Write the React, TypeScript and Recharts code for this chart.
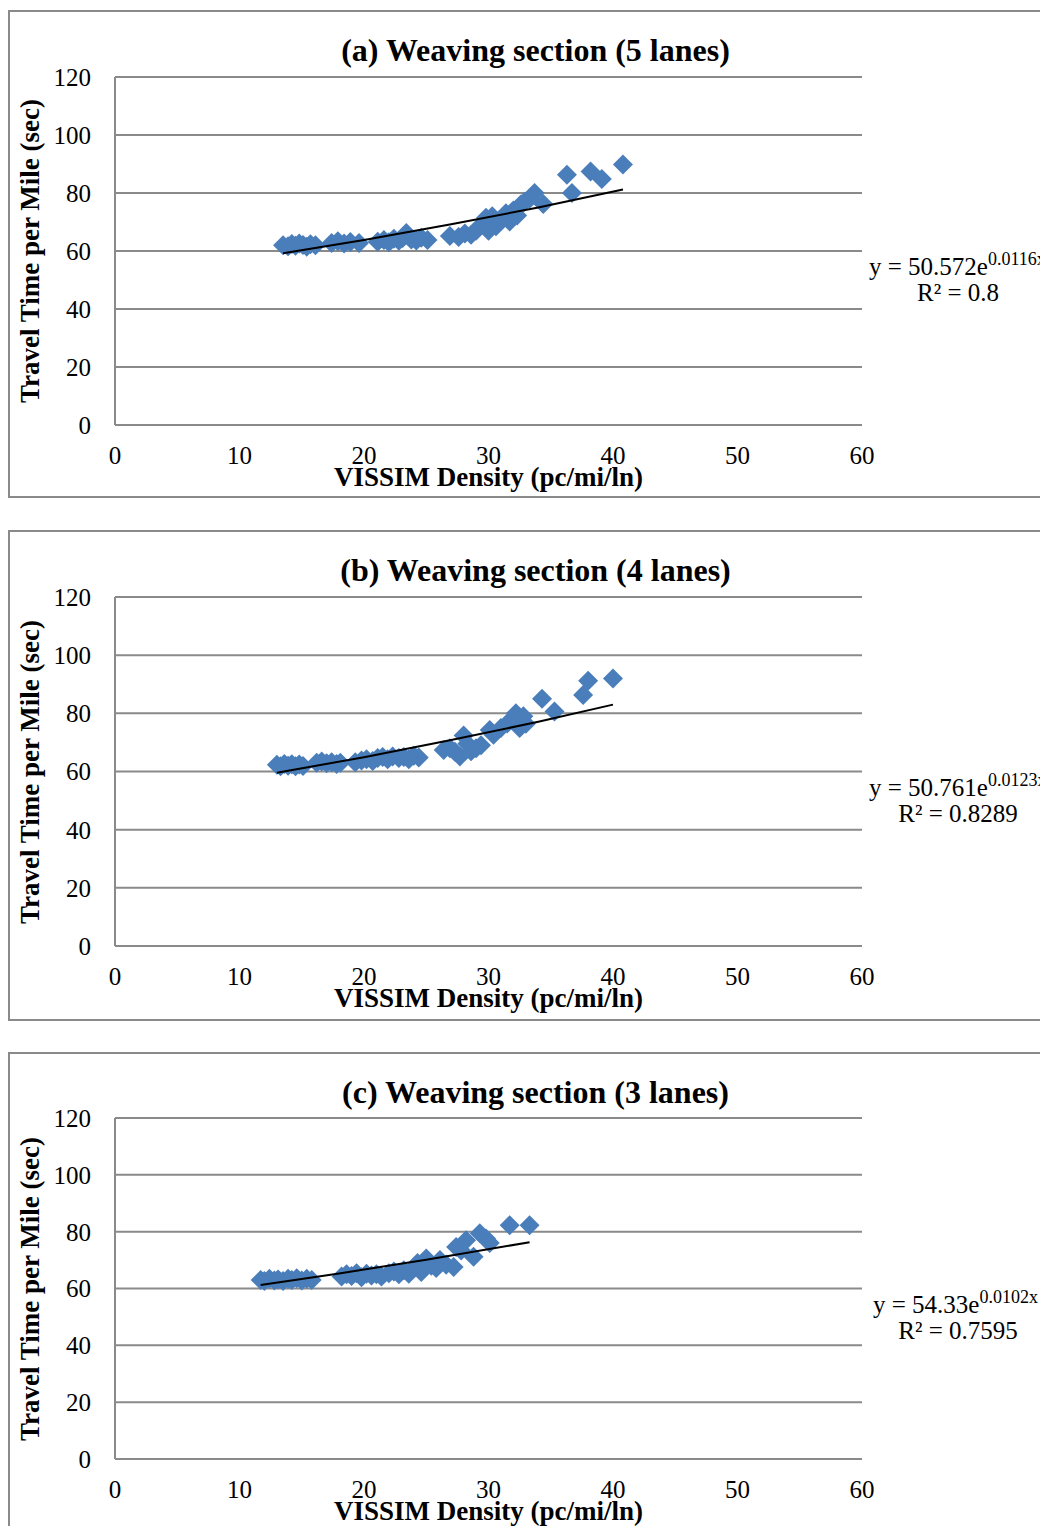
import React from "react";
import { ScatterChart, Scatter, XAxis, YAxis, CartesianGrid } from "recharts";

const xTicks = [0, 10, 20, 30, 40, 50, 60];
const yTicks = [0, 20, 40, 60, 80, 100, 120];

const densityA = [13.5, 13.9, 14.2, 14.5, 14.8, 15.1, 15.4, 15.7, 16.1, 17.4, 17.9, 18.4, 18.9, 19.6, 21.1, 21.6, 22.0, 22.4, 22.8, 23.1, 23.4, 23.8, 24.2, 24.6, 25.1, 26.9, 27.6, 28.1, 28.6, 29.0, 29.4, 29.8, 30.0, 30.3, 30.6, 31.0, 31.4, 31.7, 32.0, 32.3, 32.6, 32.9, 33.3, 33.7, 34.4, 36.3, 36.7, 38.2, 39.1, 40.8];
const timeA = [62.0, 61.6, 62.4, 61.8, 62.6, 62.1, 61.5, 62.3, 62.0, 62.8, 63.4, 62.6, 63.1, 62.8, 63.2, 63.8, 63.0, 64.2, 63.5, 64.5, 66.2, 64.0, 63.6, 64.6, 63.8, 65.2, 64.8, 66.0, 65.6, 67.0, 69.0, 71.5, 67.0, 72.0, 68.5, 70.5, 73.0, 70.2, 74.0, 72.2, 76.0, 77.0, 78.0, 80.0, 76.2, 86.3, 80.0, 87.4, 84.8, 89.8];
const trendXA = [13.5, 20, 27, 34, 40.8];
const trendYA = [59.2, 63.8, 69.2, 75.0, 81.2];

const densityB = [13.0, 13.3, 13.6, 13.9, 14.2, 14.5, 14.8, 15.1, 16.2, 16.6, 17.0, 17.4, 17.8, 18.1, 19.3, 19.8, 20.2, 20.7, 21.1, 21.5, 21.9, 22.3, 22.8, 23.2, 23.6, 24.0, 24.4, 26.4, 26.9, 27.3, 27.7, 28.0, 28.3, 28.6, 29.0, 29.4, 30.1, 30.4, 31.0, 31.5, 31.9, 32.2, 32.5, 32.8, 33.0, 34.3, 35.3, 37.6, 38.0, 40.0];
const timeB = [62.3, 61.8, 62.6, 62.0, 62.5, 61.8, 62.4, 61.9, 63.0, 63.4, 62.8, 63.2, 62.6, 63.0, 63.2, 63.8, 64.2, 63.6, 64.6, 65.0, 64.2, 65.2, 64.6, 65.0, 64.2, 65.4, 64.8, 67.4, 68.0, 66.8, 65.2, 72.4, 69.5, 67.0, 68.0, 69.0, 74.3, 72.6, 75.0, 76.5, 78.0, 80.0, 75.0, 79.0, 76.4, 85.0, 80.6, 86.3, 91.2, 92.0];
const trendXB = [13.0, 20, 27, 34, 40.0];
const trendYB = [59.6, 64.9, 70.8, 77.1, 83.0];

const densityC = [11.7, 12.0, 12.4, 12.8, 13.1, 13.5, 13.9, 14.2, 14.6, 15.0, 15.4, 15.8, 18.2, 18.6, 19.0, 19.4, 19.8, 20.2, 20.6, 21.0, 21.4, 22.0, 22.4, 22.8, 23.2, 23.6, 24.0, 24.3, 24.6, 25.0, 25.4, 25.8, 26.1, 26.6, 27.2, 27.4, 27.8, 28.2, 28.8, 29.3, 29.8, 30.1, 31.7, 33.3];
const timeC = [63.0, 62.6, 63.4, 62.8, 63.2, 62.6, 63.4, 63.0, 63.6, 62.8, 63.4, 63.0, 64.2, 65.0, 64.4, 65.4, 64.0, 65.2, 64.6, 65.0, 64.2, 65.4, 66.0, 65.0, 66.4, 65.2, 67.2, 69.0, 65.8, 70.6, 68.0, 67.2, 70.0, 68.4, 67.6, 74.6, 73.4, 77.0, 71.2, 79.4, 77.6, 76.0, 82.3, 82.3];
const trendXC = [11.7, 18, 25, 33.3];
const trendYC = [61.2, 65.3, 70.1, 76.3];

const titles = ["(a) Weaving section (5 lanes)", "(b) Weaving section (4 lanes)", "(c) Weaving section (3 lanes)"];
const eqMain = ["y = 50.572e", "y = 50.761e", "y = 54.33e"];
const eqExp = ["0.0116x", "0.0123x", "0.0102x"];
const eqR2 = ["R² = 0.8", "R² = 0.8289", "R² = 0.7595"];
const xTitle = "VISSIM Density (pc/mi/ln)";
const yTitle = "Travel Time per Mile (sec)";

const FONT = '"Liberation Serif", "Times New Roman", serif';
const GRID = "#8a8a8a";
const BLUE = "#4a7ebb";

const zip = (xs: number[], ys: number[]) => xs.map((x, i) => ({ x, y: ys[i] }));

const Diamond = (props: any) => {
  const { cx, cy } = props;
  if (cx == null || cy == null) return <g />;
  const r = 10;
  return <polygon points={`${cx},${cy - r} ${cx + r},${cy} ${cx},${cy + r} ${cx - r},${cy}`} fill={BLUE} />;
};
const Empty = () => <g />;

type PanelCfg = {
  top: number;
  bottom: number;
  plotTop: number;
  plotBottom: number;
  pts: { x: number; y: number }[];
  trend: { x: number; y: number }[];
  idx: number;
  eqLeft: number;
};

const panels: PanelCfg[] = [
  { top: 10, bottom: 498, plotTop: 77, plotBottom: 425, pts: zip(densityA, timeA), trend: zip(trendXA, trendYA), idx: 0, eqLeft: 869 },
  { top: 530, bottom: 1021, plotTop: 597, plotBottom: 946, pts: zip(densityB, timeB), trend: zip(trendXB, trendYB), idx: 1, eqLeft: 869 },
  { top: 1052, bottom: 1600, plotTop: 1118, plotBottom: 1459, pts: zip(densityC, timeC), trend: zip(trendXC, trendYC), idx: 2, eqLeft: 873 },
];

const OX = 8;
const OY = 8;
const PLOT_LEFT = 115;
const PLOT_RIGHT = 862;
const CW = 1040;

function Panel({ p }: { p: PanelCfg }) {
  const chartTop = p.top - OY;
  const H = Math.min(p.bottom, 1526) - p.top;
  const xAxisH = 40;
  const mTop = p.plotTop - p.top;
  const mBottom = H - (p.plotBottom - p.top) - xAxisH;
  const yAxisW = 60;
  const mLeft = PLOT_LEFT - OX - yAxisW;
  const mRight = CW - (PLOT_RIGHT - OX);
  const line60 = p.plotBottom - (p.plotBottom - p.plotTop) / 2;
  const midY = (p.plotTop + p.plotBottom) / 2;
  const tickStyle = { fill: "#000", fontSize: 25, fontFamily: FONT };
  return (
    <>
      <div
        style={{
          position: "absolute",
          left: 0,
          top: chartTop,
          width: 1100,
          height: p.bottom - p.top,
          border: `2px solid ${GRID}`,
          boxSizing: "border-box",
        }}
      />
      <div style={{ position: "absolute", left: 0, top: chartTop, fontFamily: FONT }}>
        <ScatterChart
          width={CW}
          height={H}
          margin={{ top: mTop, right: mRight, bottom: mBottom, left: mLeft }}
          style={{ fontFamily: FONT }}
        >
          <CartesianGrid vertical={false} stroke={GRID} strokeWidth={2} />
          <XAxis
            type="number"
            dataKey="x"
            domain={[0, 60]}
            ticks={xTicks}
            tickLine={false}
            tickSize={0}
            tickMargin={21}
            height={xAxisH}
            axisLine={{ stroke: GRID, strokeWidth: 2 }}
            tick={tickStyle}
            allowDataOverflow
          />
          <YAxis
            type="number"
            dataKey="y"
            domain={[0, 120]}
            ticks={yTicks}
            width={yAxisW}
            tickLine={false}
            tickSize={0}
            tickMargin={24}
            axisLine={{ stroke: GRID, strokeWidth: 2 }}
            tick={tickStyle}
            allowDataOverflow
          />
          <Scatter data={p.pts} fill={BLUE} shape={Diamond} isAnimationActive={false} />
          <Scatter
            data={p.trend}
            line={{ stroke: "#000", strokeWidth: 2 }}
            lineType="joint"
            shape={Empty}
            isAnimationActive={false}
          />
        </ScatterChart>
      </div>
      <div
        style={{
          position: "absolute",
          left: 535.5 - OX - 300,
          width: 600,
          top: p.top - OY + 40 - 16,
          height: 32,
          lineHeight: "32px",
          textAlign: "center",
          fontFamily: FONT,
          fontWeight: "bold",
          fontSize: 32,
          whiteSpace: "nowrap",
        }}
      >
        {titles[p.idx]}
      </div>
      <div
        style={{
          position: "absolute",
          left: 488.5 - OX - 250,
          width: 500,
          top: p.plotBottom - OY + 52 - 13,
          height: 26,
          lineHeight: "26px",
          textAlign: "center",
          fontFamily: FONT,
          fontWeight: "bold",
          fontSize: 27,
          whiteSpace: "nowrap",
        }}
      >
        {xTitle}
      </div>
      <div
        style={{
          position: "absolute",
          left: 30 - OX - 200,
          width: 400,
          top: midY - OY - 13,
          height: 26,
          lineHeight: "26px",
          textAlign: "center",
          fontFamily: FONT,
          fontWeight: "bold",
          fontSize: 27,
          whiteSpace: "nowrap",
          transform: "rotate(-90deg)",
        }}
      >
        {yTitle}
      </div>
      <div
        style={{
          position: "absolute",
          left: p.eqLeft - OX,
          top: line60 - OY + 16 - 13,
          height: 26,
          lineHeight: "26px",
          fontFamily: FONT,
          fontSize: 25,
          whiteSpace: "nowrap",
        }}
      >
        {eqMain[p.idx]}
        <span style={{ fontSize: 18, position: "relative", top: -10 }}>{eqExp[p.idx]}</span>
      </div>
      <div
        style={{
          position: "absolute",
          left: 958 - OX - 100,
          width: 200,
          top: line60 - OY + 42 - 13,
          height: 26,
          lineHeight: "26px",
          textAlign: "center",
          fontFamily: FONT,
          fontSize: 25,
          whiteSpace: "nowrap",
        }}
      >
        {eqR2[p.idx]}
      </div>
    </>
  );
}

export default function App() {
  return (
    <div style={{ position: "relative", width: 1040, height: 1518, overflow: "hidden", background: "#fff", fontFamily: FONT }}>
      {panels.map((p) => (
        <Panel key={p.idx} p={p} />
      ))}
    </div>
  );
}
